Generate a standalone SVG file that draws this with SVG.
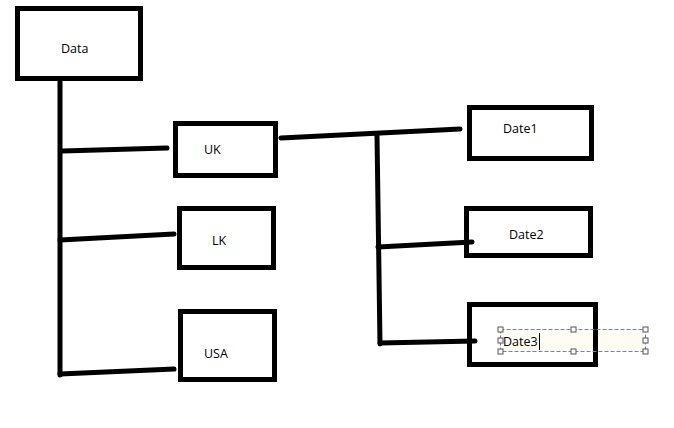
<svg xmlns="http://www.w3.org/2000/svg" width="674" height="428" viewBox="0 0 674 428">
<style>
.box{fill:none;stroke:#000;stroke-width:5}
.ln{fill:none;stroke:#000;stroke-width:5;stroke-linecap:round;stroke-linejoin:round}
.t{font-family:"Open Sans","Noto Sans",sans-serif;font-size:12.5px;fill:#000}
.sel{fill:none;stroke:#6a88ad;stroke-width:1;stroke-dasharray:4,2}
.h{fill:#fff;stroke:#555;stroke-width:1}
</style>
<rect width="674" height="428" fill="#fff"/>
<g id="connectors">
<path class="ln" d="M60,82 L60,375"/>
<path class="ln" d="M62,151 L167,148"/>
<path class="ln" d="M60,240 L174,234"/>
<path class="ln" d="M60,374 L174,369"/>
<path class="ln" d="M281,138 L460,129"/>
<path class="ln" d="M377,135 L380,344"/>
<path class="ln" d="M378,247 L472,242"/>
<path class="ln" d="M380,343 L475,341"/>
</g>
<g id="data"><rect class="box" x="17.5" y="8.5" width="123" height="70"/><text class="t" x="61" y="53">Data</text></g>
<g id="uk"><rect class="box" x="175.5" y="123.5" width="100" height="52"/><text class="t" x="204" y="154">UK</text></g>
<g id="lk"><rect class="box" x="179.5" y="208.5" width="94" height="59"/><text class="t" x="212" y="245">LK</text></g>
<g id="usa"><rect class="box" x="180.5" y="311.5" width="94" height="68"/><text class="t" x="204" y="358">USA</text></g>
<g id="date1"><rect class="box" x="469.5" y="107.5" width="122" height="51"/><text class="t" x="503" y="133">Date1</text></g>
<g id="date2"><rect class="box" x="466.5" y="208.5" width="124" height="47"/><text class="t" x="509" y="239">Date2</text></g>
<g id="date3">
<rect x="500" y="329" width="145" height="22" fill="#fffbe0" fill-opacity="0.4"/>
<rect class="box" x="469.5" y="304.5" width="126" height="60"/>
<rect class="sel" x="500.5" y="329.5" width="145" height="22"/>
<text class="t" x="503" y="346">Date3</text>
<line x1="539.5" y1="333" x2="539.5" y2="350" stroke="#000" stroke-width="1"/>
<rect class="h" x="498" y="327" width="5" height="5"/><rect class="h" x="571" y="327" width="5" height="5"/><rect class="h" x="643" y="327" width="5" height="5"/>
<rect class="h" x="498" y="338" width="5" height="5"/><rect class="h" x="643" y="338" width="5" height="5"/>
<rect class="h" x="498" y="349" width="5" height="5"/><rect class="h" x="571" y="349" width="5" height="5"/><rect class="h" x="643" y="349" width="5" height="5"/>
</g>
</svg>
